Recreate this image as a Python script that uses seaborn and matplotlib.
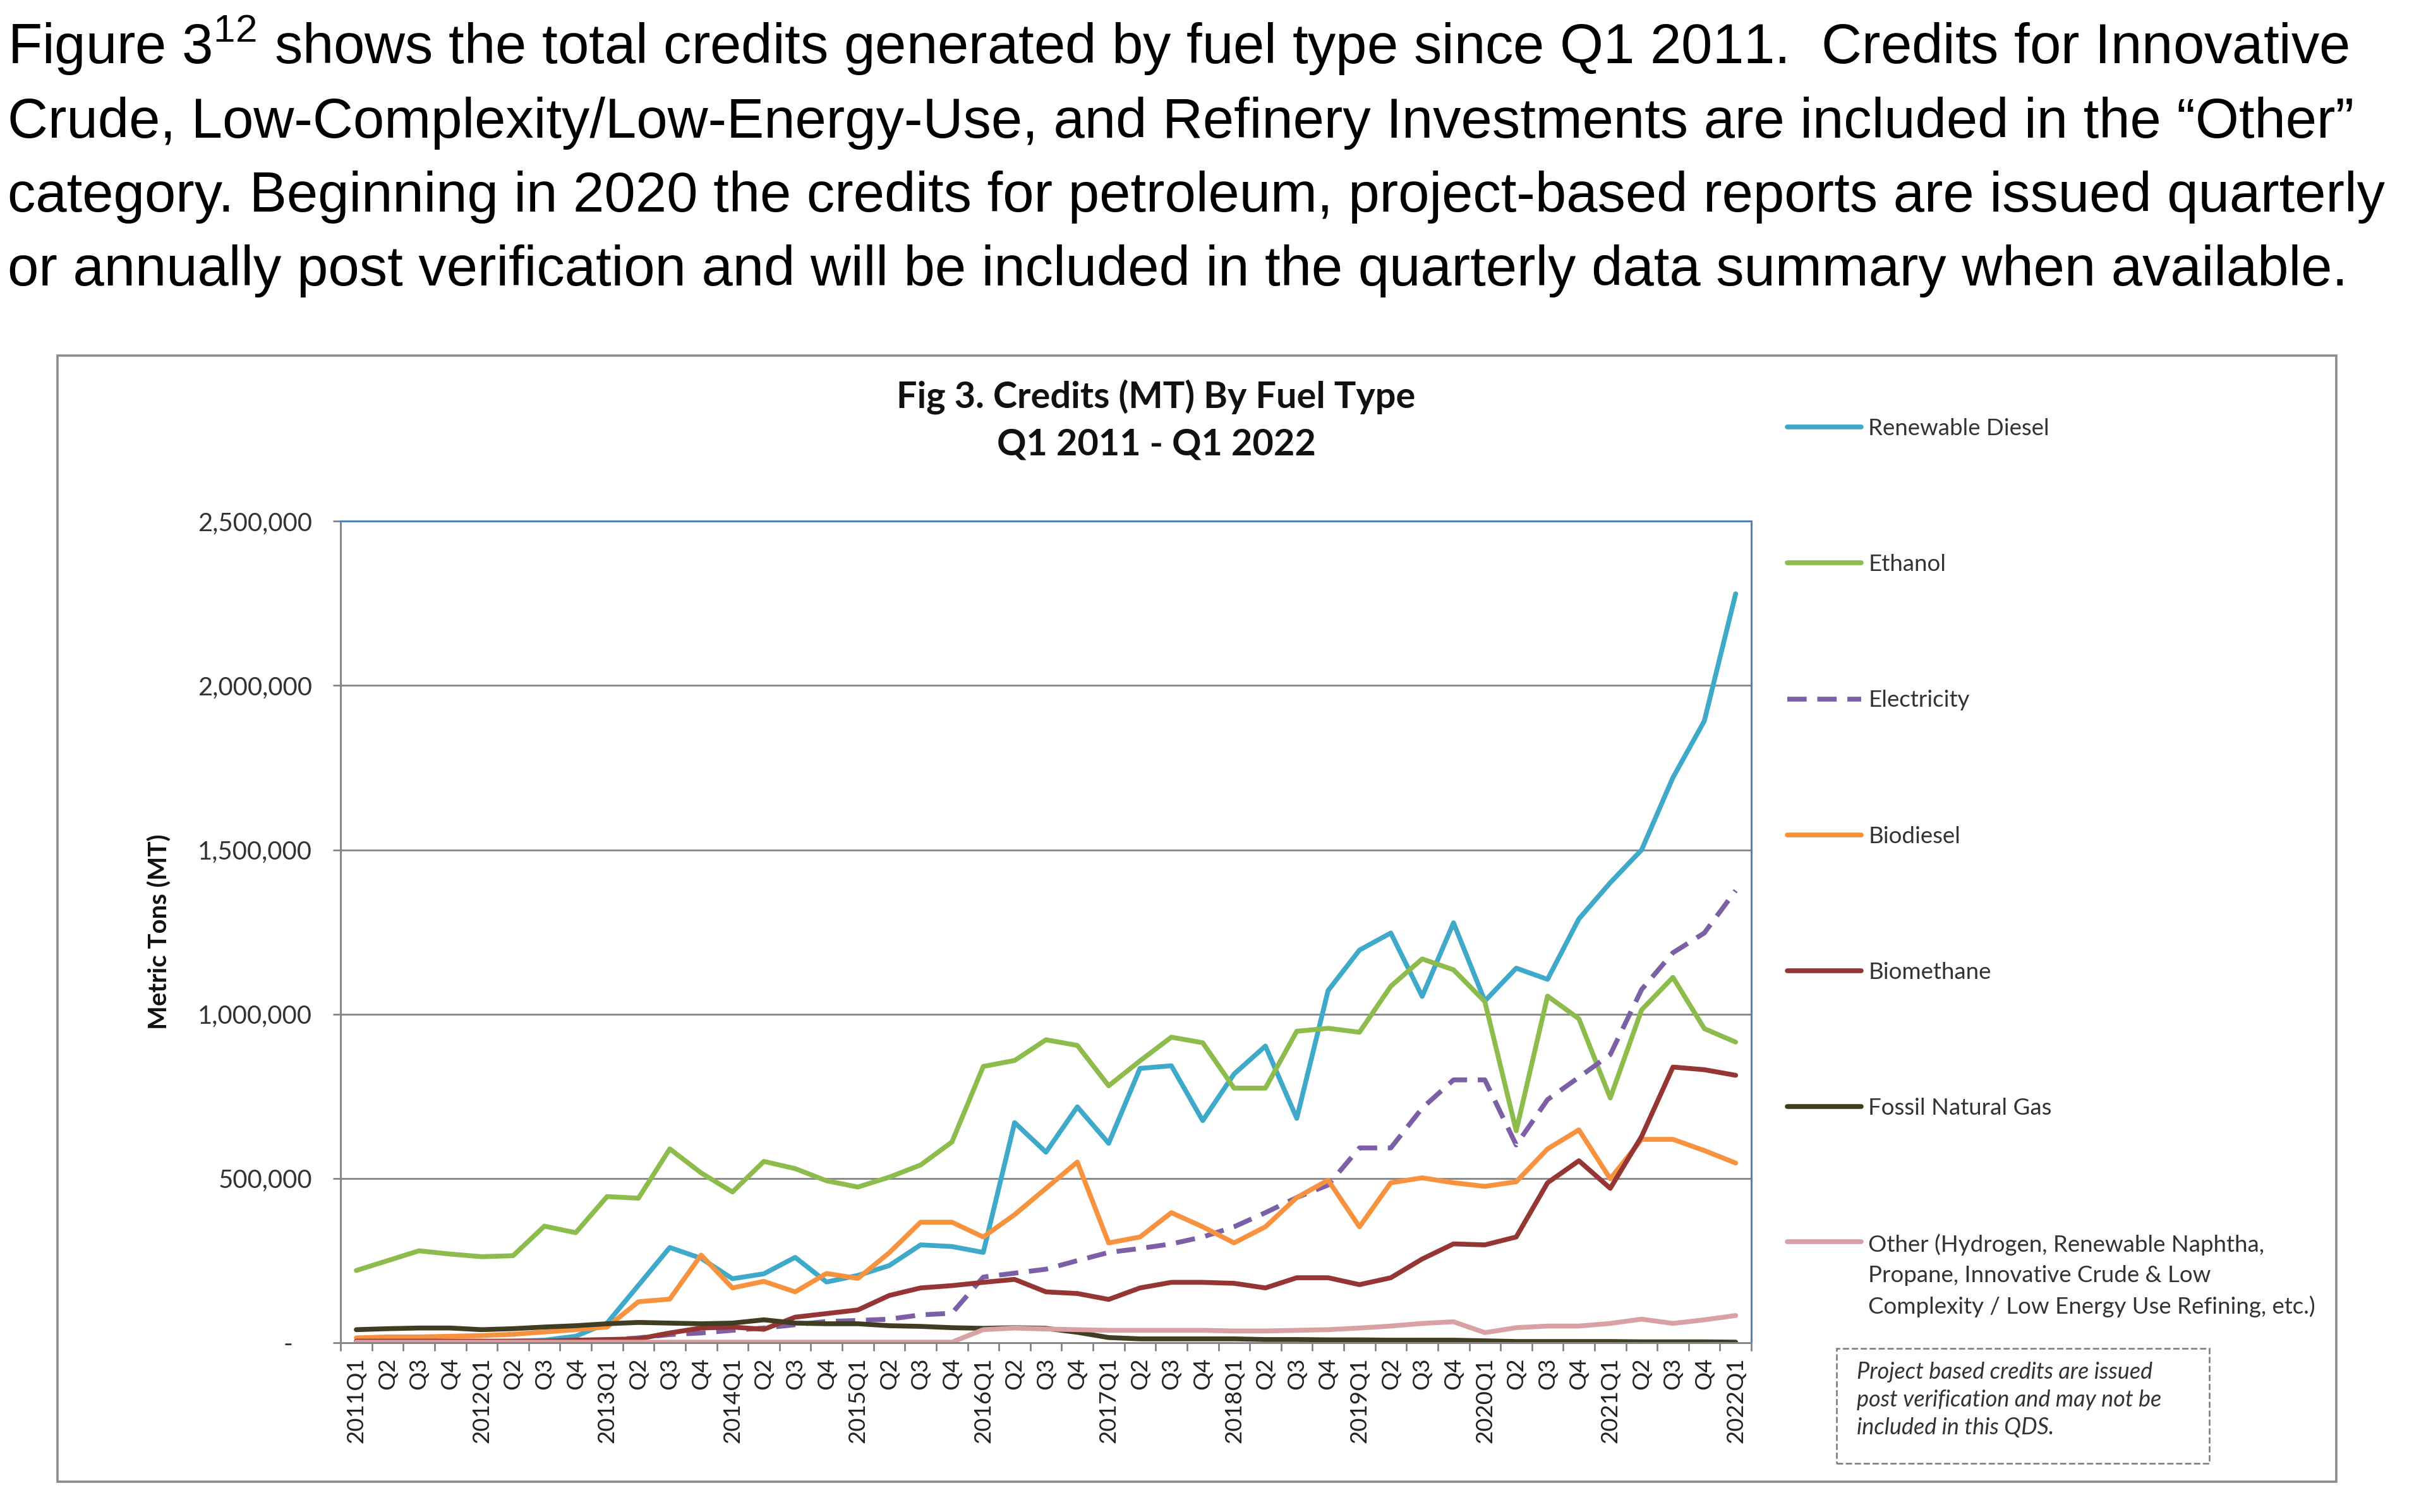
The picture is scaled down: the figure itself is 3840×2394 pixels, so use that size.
import matplotlib
matplotlib.use('Agg')
import matplotlib.pyplot as plt
import matplotlib.ticker as mticker
from matplotlib.patches import Rectangle
import seaborn as sns
import pandas as pd

# quarters 2011Q1 .. 2022Q1 (categories on x)
quarters = [f'{y}Q{q}' for y in range(2011, 2022) for q in range(1, 5)] + ['2022Q1']
tick_labels = [q if q.endswith('Q1') else q[-2:] for q in quarters]

# credits per quarter, thousands of MT
renewable_diesel = [0, 0, 0, 2, 3, 5, 8, 20, 60, 175, 290,
                    257, 195, 210, 260, 185, 205, 235, 298, 293, 275, 670,
                    580, 718, 607, 835, 843, 676, 818, 903, 683, 1072, 1195,
                    1247, 1054, 1278, 1040, 1140, 1106, 1290, 1400, 1500, 1720, 1892, 2279]
ethanol = [220, 250, 280, 270, 262, 265, 355, 335, 445, 440, 590,
           517, 459, 552, 530, 493, 474, 504, 541, 611, 841, 859,
           922, 905, 782, 858, 930, 913, 775, 775, 948, 957, 945,
           1085, 1168, 1135, 1038, 645, 1055, 986, 745, 1013, 1112, 956, 915]
electricity = [0, 0, 0, 0, 2, 3, 5, 5, 8, 15, 25,
               30, 38, 45, 55, 65, 68, 72, 85, 90, 200, 212,
               224, 250, 275, 287, 301, 322, 353, 396, 442, 480, 593,
               593, 714, 800, 800, 602, 740, 808, 877, 1075, 1187, 1247, 1376]
biodiesel = [15, 18, 18, 20, 22, 26, 33, 40, 48, 125, 133,
             267, 167, 187, 155, 211, 196, 274, 367, 367, 322, 390,
             470, 550, 304, 322, 396, 353, 304, 353, 442, 495, 353,
             487, 502, 487, 476, 490, 590, 648, 499, 619, 619, 585, 547]
biomethane = [5, 5, 5, 5, 5, 5, 5, 8, 10, 12, 30,
              45, 48, 41, 78, 89, 100, 144, 167, 174, 184, 193,
              155, 150, 132, 167, 184, 184, 181, 167, 198, 198, 177,
              198, 255, 301, 298, 322, 487, 554, 470, 628, 839, 831, 814]
fossil_gas = [40, 43, 45, 45, 40, 43, 48, 52, 58, 62, 60,
              58, 60, 70, 60, 58, 58, 52, 50, 46, 44, 46,
              44, 32, 16, 12, 12, 12, 12, 10, 10, 9, 9,
              8, 8, 8, 6, 4, 4, 4, 4, 3, 3, 3, 2]
other = [2, 2, 2, 2, 2, 2, 2, 2, 2, 2, 2,
         2, 2, 2, 2, 2, 2, 2, 2, 2, 40, 45,
         42, 40, 38, 38, 38, 38, 36, 36, 38, 40, 45,
         51, 59, 64, 31, 46, 51, 51, 59, 72, 59, 70, 83]

fuels = ['Renewable Diesel', 'Ethanol', 'Electricity', 'Biodiesel',
         'Biomethane', 'Fossil Natural Gas', 'Other']
legend_labels = fuels[:-1] + ['Other (Hydrogen, Renewable Naphtha,\nPropane, Innovative Crude & Low\n'
                              'Complexity / Low Energy Use Refining, etc.)']
colors = {'Renewable Diesel': '#3FA9C9', 'Ethanol': '#8DBB4C', 'Electricity': '#7D5FA6',
          'Biodiesel': '#F7923F', 'Biomethane': '#953634', 'Fossil Natural Gas': '#403D22',
          'Other': '#D9A1A3'}
dashes = {f: '' for f in fuels}
dashes['Electricity'] = (4.0, 2.2)

series = [renewable_diesel, ethanol, electricity, biodiesel, biomethane, fossil_gas, other]
df = pd.concat([pd.DataFrame({'Quarter': quarters, 'Fuel': f, 'Credits': [v * 1000 for v in s]})
                for f, s in zip(fuels, series)], ignore_index=True)

sns.set_theme(style='white')
plt.rcParams['font.family'] = ['Lato', 'DejaVu Sans']

fig = plt.figure(figsize=(16, 9.975), dpi=240)
ax = fig.add_axes([0.1404, 0.1119, 0.5815, 0.5434])

sns.lineplot(data=df, x='Quarter', y='Credits', hue='Fuel', hue_order=fuels, palette=colors,
             style='Fuel', style_order=fuels, dashes=dashes, linewidth=2.3,
             sort=False, errorbar=None, legend=False, ax=ax)

ax.set_xlim(-0.5, len(quarters) - 0.5)
ax.set_ylim(0, 2_500_000)
ax.set_yticks(range(0, 2_500_001, 500_000))
ax.yaxis.set_major_formatter(mticker.FuncFormatter(lambda v, p: '-   ' if v == 0 else f'{v:,.0f}'))
ax.set_xticks(range(len(quarters)))
ax.set_xticklabels(tick_labels, rotation=90)
ax.set_xticks([i - 0.5 for i in range(len(quarters) + 1)], minor=True)
ax.tick_params(axis='x', which='major', length=0, pad=7, labelsize=11, labelcolor='#222222')
ax.tick_params(axis='x', which='minor', bottom=True, length=4, width=0.8, color='#7F7F7F')
ax.tick_params(axis='y', left=True, length=3.5, width=0.8, color='#7F7F7F', pad=10,
               labelsize=12, labelcolor='#333333')
ax.grid(axis='y', color='#8C8C8C', linewidth=0.9)
ax.set_axisbelow(True)
ax.set_xlabel('')
ax.set_ylabel('Metric Tons (MT)', fontsize=12, weight='bold', color='#111111')
ax.yaxis.set_label_coords(-0.1196, 0.5)
for side in ['left', 'bottom']:
    ax.spines[side].set_color('#868686')
    ax.spines[side].set_linewidth(0.9)
for side in ['top', 'right']:
    ax.spines[side].set_color('#4F81BD')
    ax.spines[side].set_linewidth(0.9)

leg = ax.legend(ax.get_lines()[:len(fuels)], legend_labels, loc='upper left',
                bbox_to_anchor=(0.7367, 0.7235), bbox_transform=fig.transFigure,
                frameon=False, fontsize=11, handlelength=3.2, handletextpad=0.3,
                labelspacing=4.97, borderpad=0, borderaxespad=0)
for t in leg.get_texts():
    t.set_color('#333333')
leg.get_texts()[-1].set_linespacing(1.55)
leg._legend_handle_box.get_children()[0].get_children()[-1].align = 'top'

# chart title
fig.text(1830 / 3840, 1 - 665 / 2394, 'Fig 3. Credits (MT) By Fuel Type\nQ1 2011 - Q1 2022',
         ha='center', va='center', fontsize=17.3, weight='bold', linespacing=1.5, color='#111111')

# note box
fig.add_artist(Rectangle((2907 / 3840, 1 - 2317 / 2394), 590 / 3840, 182 / 2394,
                         transform=fig.transFigure, fill=False, ls='--', ec='#7F7F7F', lw=0.8))
fig.text(2939 / 3840, 1 - 2156 / 2394,
         'Project based credits are issued\npost verification and may not be\nincluded in this QDS.',
         ha='left', va='top', fontsize=10.8, style='italic', linespacing=1.4, color='#333333')

# chart frame
fig.add_artist(Rectangle((91 / 3840, 1 - 2346 / 2394), 3607 / 3840, 1783 / 2394,
                         transform=fig.transFigure, fill=False, ec='#8C8C8C', lw=1.1))

# report paragraph above the chart
para = ['Figure 3$^{\\mathregular{12}}$ shows the total credits generated by fuel type since Q1 2011.  Credits for Innovative',
        'Crude, Low-Complexity/Low-Energy-Use, and Refinery Investments are included in the \u201cOther\u201d',
        'category. Beginning in 2020 the credits for petroleum, project-based reports are issued quarterly',
        'or annually post verification and will be included in the quarterly data summary when available.']
for k, line in enumerate(para):
    fig.text(12 / 3840, 1 - (101 + 117 * k) / 2394, line, ha='left', va='baseline',
             fontsize=26.6, family=['Liberation Sans', 'DejaVu Sans'], color='black')

fig.savefig('out.png', dpi=240, facecolor='white')
